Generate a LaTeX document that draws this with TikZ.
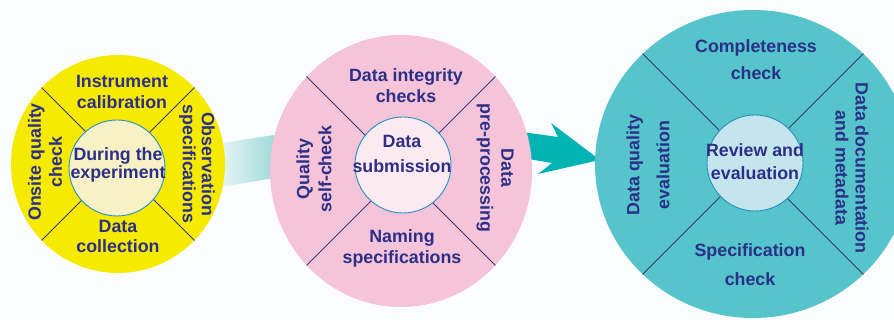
\documentclass[tikz,border=0pt]{standalone}
\usepackage{fontspec}
\setmainfont{Liberation Sans}
\usetikzlibrary{shapes.geometric}
\definecolor{navy}{RGB}{43,47,135}
\definecolor{bgcol}{RGB}{251,252,254}
\definecolor{yel}{RGB}{246,234,0}
\definecolor{yelin}{RGB}{247,242,198}
\definecolor{pnk}{RGB}{245,196,217}
\definecolor{pnkin}{RGB}{251,234,239}
\definecolor{tea}{RGB}{85,196,203}
\definecolor{teain}{RGB}{197,229,236}
\definecolor{innerb}{RGB}{42,140,196}
\definecolor{divcol}{RGB}{55,60,112}
\definecolor{arrowcol}{RGB}{0,180,180}
\definecolor{bandL}{RGB}{238,248,248}
\definecolor{bandR}{RGB}{160,218,216}
\begin{document}
\begin{tikzpicture}[x=1pt,y=-1pt,
  lbl/.style={text=navy, align=center, inner sep=0pt, font={\fontsize{17.8}{#1}\selectfont\bfseries}},
  lbl/.default=21,
  divider/.style={draw=divcol, line width=0.9pt},
  outer/.style={ellipse, draw=none, inner sep=0pt},
  innerc/.style={circle, draw=innerb, line width=0.9pt, inner sep=0pt, minimum size=96pt}]
\useasboundingbox (0,0) rectangle (894,320);
\clip (0,0) rectangle (894,320);
\fill[bgcol] (0,0) rectangle (894,320);
% connectors
\shade[left color=bandL, right color=bandR] (215,144) -- (274,135) -- (274,178) -- (215,188) -- cycle;
\fill[arrowcol] (522,132) -- (558,137) -- (551,123) -- (600,160) -- (538,174) -- (552,163) -- (522,158) -- cycle;
% outer circles
\node[outer, fill=yel, minimum width=214pt, minimum height=218pt] (yel) at (118,164) {};
\node[outer, fill=pnk, minimum width=262pt, minimum height=272pt] (pnk) at (401,171) {};
\node[outer, fill=tea, minimum width=316pt, minimum height=308pt] (tea) at (753,164) {};
% dividers
\foreach \a in {45,135,225,315} {
  \draw[divider] (yel.\a) -- (yel.center);
  \draw[divider] (pnk.\a) -- (pnk.center);
  \draw[divider] (tea.\a) -- (tea.center);
}
% inner circles
\node[innerc, fill=yelin] (yelin) at (117,168) {};
\node[innerc, fill=pnkin] (pnkin) at (403,165) {};
\node[innerc, fill=teain] (teain) at (755,163) {};
% yellow labels
\node[lbl=21] (y1) at (122,92) {Instrument\\calibration};
\node[lbl=21, rotate=90] (y2) at (45,162) {Onsite quality\\check};
\node[lbl=19, rotate=-90] (y3) at (197,164) {Observation\\specifications};
\node[lbl=20] (y4) at (118,236) {Data\\collection};
\node[lbl=16] (y5) at (118,165) {During the\\experiment};
% pink labels
\node[lbl=21] (p1) at (406,86) {Data integrity\\checks};
\node[lbl=22, rotate=90] (p2) at (314,169) {Quality\\self-check};
\node[lbl=21, rotate=-90] (p3) at (495,168) {Data\\pre-processing};
\node[lbl=21] (p4) at (402,248) {Naming\\specifications};
\node[lbl=25] (p5) at (402,154) {Data\\submission};
% teal labels
\node[lbl=27] (t1) at (756,60) {Completeness\\check};
\node[lbl=30, rotate=90] (t2) at (648,165) {Data quality\\evaluation};
\node[lbl=20, rotate=-90] (t3) at (852,168) {Data documentation\\and metadata};
\node[lbl=29] (t4) at (750,265) {Specification\\check};
\node[lbl=23] (t5) at (755,162) {Review and\\evaluation};
\end{tikzpicture}
\end{document}
